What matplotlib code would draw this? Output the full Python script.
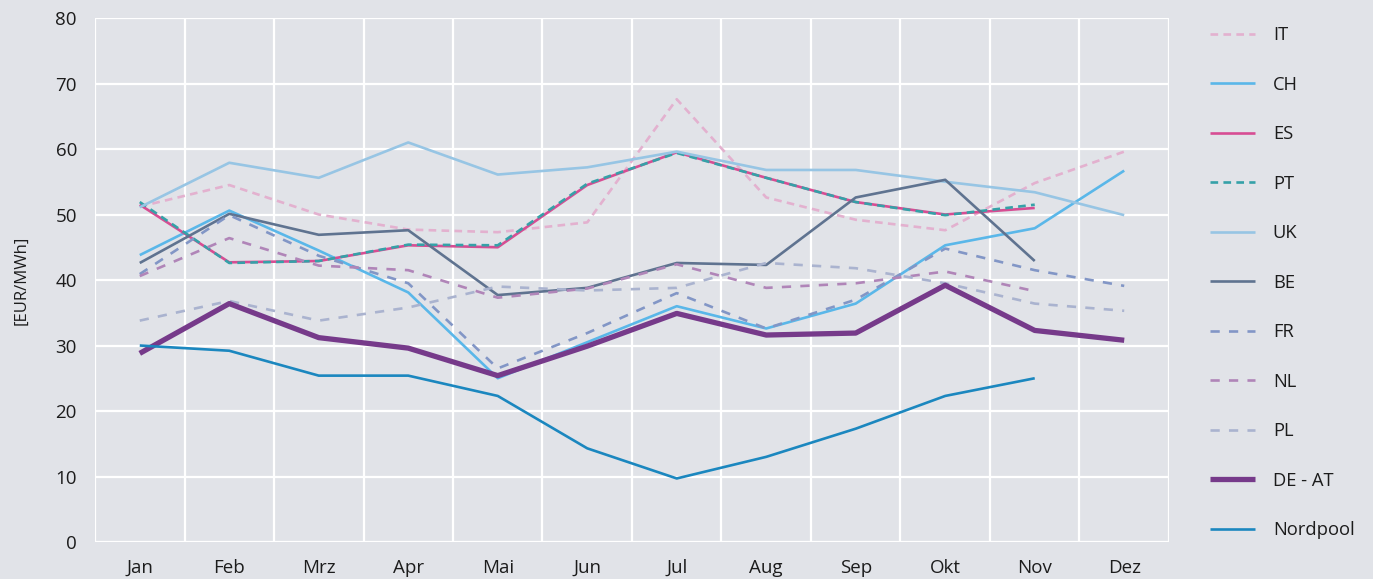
"""monthly electricity prices by market"""
import matplotlib.pyplot as plt
import numpy as np

nan = np.nan

months = ["Jan", "Feb", "Mrz", "Apr", "Mai", "Jun", "Jul", "Aug", "Sep", "Okt", "Nov", "Dez"]

it = [51.2, 54.5, 50.0, 47.7, 47.3, 48.8, 67.6, 52.6, 49.2, 47.6, 54.8, 59.6]
ch = [43.8, 50.6, 44.5, 38.1, 25.0, 30.5, 36.0, 32.6, 36.4, 45.3, 47.9, 56.7]
es = [51.5, 42.7, 42.9, 45.3, 45.0, 54.5, 59.5, 55.6, 51.9, 50.0, 51.0, nan]
pt = [51.9, 42.6, 42.9, 45.4, 45.3, 54.7, 59.4, 55.6, 51.9, 49.9, 51.5, nan]
uk = [51.1, 57.9, 55.6, 61.0, 56.1, 57.2, 59.6, 56.8, 56.8, 55.0, 53.4, 49.9]
be = [42.6, 50.1, 46.9, 47.6, 37.7, 38.8, 42.6, 42.3, 52.6, 55.3, 42.9, nan]
fr = [40.9, 49.9, 43.7, 39.5, 26.5, 31.9, 38.0, 32.6, 37.0, 44.8, 41.5, 39.1]
nl = [40.6, 46.4, 42.2, 41.5, 37.3, 38.7, 42.4, 38.8, 39.5, 41.3, 38.3, nan]
pl = [33.8, 36.8, 33.8, 35.8, 39.0, 38.4, 38.8, 42.6, 41.8, 39.5, 36.4, 35.3]
deat = [28.8, 36.4, 31.2, 29.6, 25.4, 29.9, 34.9, 31.6, 31.9, 39.2, 32.3, 30.8]
nordpool = [30.0, 29.2, 25.4, 25.4, 22.3, 14.3, 9.7, 13.0, 17.3, 22.3, 25.0, nan]

bg = "#e1e3e8"
txt = "#1c1c1c"
plt.rcParams['font.family'] = ['Open Sans', 'DejaVu Sans']

fig = plt.figure(figsize=(13.73, 5.79), dpi=100, facecolor=bg)
ax = fig.add_axes([0.0692, 0.0639, 0.7822, 0.905])
ax.set_facecolor(bg)

x = np.arange(len(months))
short = (0, (2.9, 2.0))
long_ = (0, (3.5, 3.5))

# series in legend order
series = [
    ("IT", it, "#e3b1cf", 1.9, short),
    ("CH", ch, "#5ab7e9", 1.9, "-"),
    ("ES", es, "#d74d93", 1.9, "-"),
    ("PT", pt, "#35a1a8", 1.9, short),
    ("UK", uk, "#97c5e4", 1.9, "-"),
    ("BE", be, "#5f7390", 1.9, "-"),
    ("FR", fr, "#8296c6", 1.9, long_),
    ("NL", nl, "#b085b8", 1.9, long_),
    ("PL", pl, "#aab3cf", 1.9, long_),
    ("DE - AT", deat, "#763a8a", 3.8, "-"),
    ("Nordpool", nordpool, "#1b87bf", 1.9, "-"),
]
for name, vals, col, lw, ls in series:
    ax.plot(x, vals, color=col, linewidth=lw, linestyle=ls, label=name,
            solid_capstyle="butt", dash_capstyle="butt")

# axes and grid
ax.set_xlim(-0.5, 11.5)
ax.set_ylim(0, 80)
ax.set_xticks(x)
ax.set_xticklabels(months)
ax.set_xticks(np.arange(-0.5, 12, 1), minor=True)
ax.set_yticks(np.arange(0, 81, 10))
ax.grid(False)
ax.grid(which="minor", axis="x", color="white", linewidth=1.6)
ax.grid(which="major", axis="y", color="white", linewidth=1.6)
ax.set_axisbelow(True)
for s in ax.spines.values():
    s.set_visible(False)
ax.tick_params(which="both", length=0)
ax.tick_params(axis="x", pad=12, labelsize=13.5, labelcolor=txt)
ax.tick_params(axis="y", pad=13, labelsize=13.5, labelcolor=txt)
ax.set_ylabel("[EUR/MWh]", fontsize=12, color=txt, labelpad=19)

leg = fig.legend(loc="upper left", bbox_to_anchor=(0.881, 0.955), frameon=False,
                 fontsize=13.2, handlelength=2.5, handletextpad=0.95,
                 labelspacing=1.72, borderaxespad=0, borderpad=0)
for t in leg.get_texts():
    t.set_color(txt)

fig.savefig("out.png", dpi=100, facecolor=bg)
